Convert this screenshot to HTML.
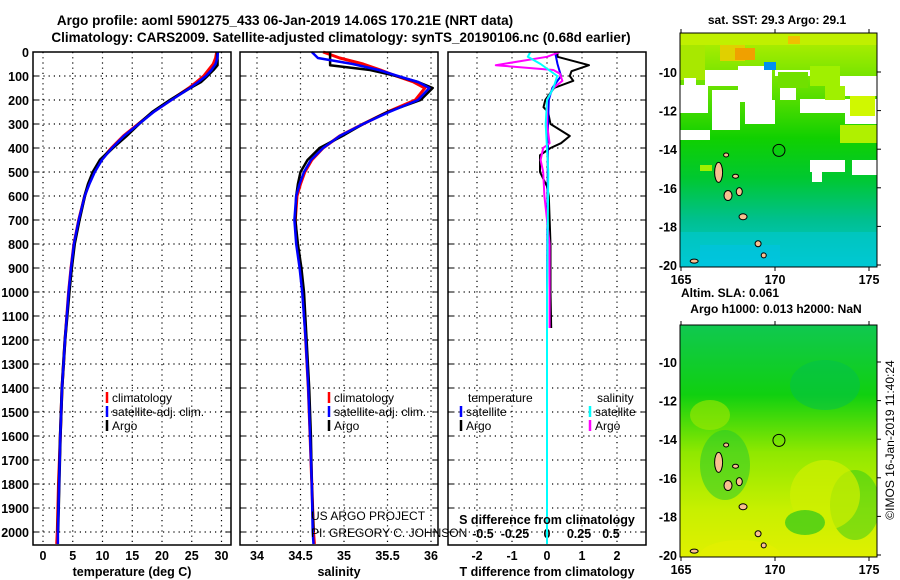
<!DOCTYPE html>
<html><head><meta charset="utf-8"><style>
body{margin:0;background:#fff;}
svg{display:block;font-family:"Liberation Sans",sans-serif;}
.t{font-weight:bold;font-size:13.5px;}
.tk{font-weight:bold;font-size:12.5px;}
</style></head><body>
<svg id="fig" width="900" height="580" viewBox="0 0 900 580" xmlns="http://www.w3.org/2000/svg">
<defs>
<linearGradient id="sstg" x1="0" y1="0" x2="0" y2="1">
<stop offset="0" stop-color="#b8f000"/><stop offset="0.25" stop-color="#60e000"/><stop offset="0.45" stop-color="#10d000"/><stop offset="0.62" stop-color="#00c830"/><stop offset="0.8" stop-color="#00c090"/><stop offset="1" stop-color="#00c8d8"/>
</linearGradient>
<linearGradient id="slag" x1="0" y1="0" x2="0" y2="1">
<stop offset="0" stop-color="#10c850"/><stop offset="0.3" stop-color="#10d010"/><stop offset="0.55" stop-color="#90e800"/><stop offset="0.8" stop-color="#c8f000"/><stop offset="1" stop-color="#e0f000"/>
</linearGradient>
<clipPath id="clip1"><rect x="680" y="33" width="197" height="234"/></clipPath>
<clipPath id="clip2"><rect x="680" y="325" width="197" height="232"/></clipPath>
</defs>
<text class="t" x="285" y="25" text-anchor="middle">Argo profile: aoml 5901275_433 06-Jan-2019 14.06S 170.21E (NRT data)</text>
<text class="t" x="341" y="42" text-anchor="middle">Climatology: CARS2009. Satellite-adjusted climatology: synTS_20190106.nc (0.68d earlier)</text>
<g id="panels"></g>
<g id="maps"></g>
</svg>
<script>
// ---- data ----
const depths = [0,25,50,75,100,125,150,200,250,300,350,400,450,500,550,600,700,800,900,1000,1200,1400,1600,1800,2000,2050];
const tempClim = [29.2,29.0,28.6,27.8,27.0,25.8,24.5,21.5,18.5,16.0,13.5,11.5,9.8,8.6,7.7,7.0,6.0,5.2,4.7,4.3,3.7,3.2,2.9,2.6,2.4,2.3];
const tempSat  = [29.4,29.3,29.0,28.3,27.4,26.1,24.7,21.6,18.6,16.1,13.6,11.6,9.9,8.7,7.8,7.0,6.0,5.2,4.7,4.3,3.7,3.2,2.9,2.7,2.5,2.5];
const argoDepths = [0,25,55,75,100,125,150,200,250,300,350,400,450,500,550,600,700,800,900,1000,1200,1400,1600,1800,2000];
const tempArgo = [29.3,29.3,29.3,28.6,27.6,26.5,24.7,21.4,18.4,16.1,14.0,11.7,9.6,8.4,7.6,7.0,6.1,5.3,4.8,4.4,3.7,3.2,2.9,2.7,2.5];
const salClim = [34.76,34.95,35.22,35.42,35.6,35.8,35.93,35.82,35.5,35.22,34.95,34.76,34.63,34.55,34.5,34.46,34.44,34.46,34.5,34.53,34.56,34.59,34.61,34.63,34.65,34.66];
const salSat  = [34.63,34.7,35.1,35.4,35.62,35.85,35.98,35.85,35.52,35.22,34.95,34.76,34.62,34.54,34.49,34.45,34.43,34.45,34.49,34.52,34.56,34.59,34.61,34.63,34.64,34.65];
const salArgo = [34.84,34.84,34.84,35.3,35.6,35.85,36.02,35.88,35.5,35.22,34.98,34.72,34.58,34.5,34.47,34.45,34.44,34.47,34.51,34.54,34.57,34.6,34.62,34.63,34.65];
const dTDepths = [0,20,55,80,100,120,150,200,230,250,300,350,380,400,430,500,560,600,800,1000,1150];
const dTArgo = [0.3,0.3,1.2,0.7,0.65,0.75,0.2,-0.05,-0.1,0.03,0.1,0.65,0.4,0.1,-0.2,-0.2,0,0.05,0.1,0.1,0.12];
const dTSatDepths = [0,50,100,150,200,300,500,1000,2050];
const dTSat = [0.23,0.3,0.4,0.15,0.05,0.03,0.02,0,0];
const dSDepths = [0,20,55,75,90,120,150,200,300,380,400,450,500,600,800,1150];
const dSArgo = [0.1,0.0,-0.4,0.05,0.1,0.12,0.05,0,0,0.02,-0.03,-0.05,-0.03,-0.02,0.02,0.02];
const dSSatDepths = [0,20,50,100,150,200,300,500,1000,2050];
const dSSat = [-0.13,-0.15,-0.05,0.08,0.05,0,-0.01,0.01,0,0];
const depthTicks = [0,100,200,300,400,500,600,700,800,900,1000,1100,1200,1300,1400,1500,1600,1700,1800,1900,2000];
const tempTicks = [0,5,10,15,20,25,30];
const salTicks = [34,34.5,35,35.5,36];
const salTickLabels = ["34","34.5","35","35.5","36"];
const dTTicks = [-2,-1,0,1,2];
const dSTicks = [-0.5,-0.25,0,0.25,0.5];
const dSTickLabels = ["-0.5","-0.25","0","0.25","0.5"];
const latTicks = [-10,-12,-14,-16,-18,-20];
const lonTicks = [165,170,175];

const NS="http://www.w3.org/2000/svg";
function mk(tag,attrs,parent,txt){const e=document.createElementNS(NS,tag);for(const k in attrs)e.setAttribute(k,attrs[k]);if(txt!==undefined)e.textContent=txt;parent.appendChild(e);return e;}
const Y = d => 52 + d*0.24;
const xT = v => 43 + v*5.95;
const xS = v => 257 + (v-34)*87;
const xdT = v => 547 + v*35;
const xdS = v => 547 + v*128;
const P = document.getElementById('panels');
const panels=[[33,231],[240,438],[448,646]];
panels.forEach((p,i)=>{
  const g=mk('g',{},P);
  
  
  depthTicks.forEach(d=>{ if(d>0){const l=mk('line',{x1:p[0],x2:p[1],y1:Y(d),y2:Y(d),stroke:'#000','stroke-dasharray':'1.2,4','stroke-width':1.2},g);
     }
    mk('line',{x1:p[0],x2:p[0]+5,y1:Y(d),y2:Y(d),stroke:'#000'},g);
    mk('line',{x1:p[1]-5,x2:p[1],y1:Y(d),y2:Y(d),stroke:'#000'},g);
  });
});
function vgrid(ticks,fx,p,labels,name){
  ticks.forEach((t,i)=>{const x=fx(t);
    const l=mk('line',{x1:x,x2:x,y1:52,y2:545,stroke:'#000','stroke-dasharray':'1.2,4','stroke-width':1.2},P);
     
    const tx=mk('text',{x:x,y:560,'text-anchor':'middle',class:'tk'},P,labels?labels[i]:String(t));
     });
}
vgrid(tempTicks,xT,panels[0],null,'temp');
vgrid(salTicks,xS,panels[1],salTickLabels,'sal');
vgrid(dTTicks,xdT,panels[2],null,'tdiff');
dSTicks.forEach((t,i)=>{const x=xdS(t);const tx=mk('text',{x:x,y:538,'text-anchor':'middle',class:'tk'},P,dSTickLabels[i]);
   });
depthTicks.forEach(d=>{const tx=mk('text',{x:29,y:Y(d)+5,'text-anchor':'end',class:'tk'},P,String(d));
   });
function line(ds,vs,fx,col,w,name){
  const pts=ds.map((d,i)=>fx(vs[i]).toFixed(1)+','+Y(d).toFixed(1)).join(' ');
  const l=mk('polyline',{points:pts,fill:'none',stroke:col,'stroke-width':w,'stroke-linejoin':'round'},P);
   
}
line(depths,tempClim,xT,'#f00',3,'temp-climatology-line');
line(argoDepths,tempArgo,xT,'#000',3,'temp-argo-line');
line(depths,tempSat,xT,'#00f',2.5,'temp-satellite-line');
line(depths,salClim,xS,'#f00',3,'sal-climatology-line');
line(argoDepths,salArgo,xS,'#000',2.5,'sal-argo-line');
line(depths,salSat,xS,'#00f',2.5,'sal-satellite-line');
line(dTDepths,dTArgo,xdT,'#000',2,'tdiff-argo-line');
line(dTSatDepths,dTSat,xdT,'#00f',2,'tdiff-satellite-line');
line(dSDepths,dSArgo,xdS,'#f0f',2,'sdiff-argo-line');
line(dSSatDepths,dSSat,xdS,'#0ff',2,'sdiff-satellite-line');
panels.forEach(p=>{const r=mk('rect',{x:p[0],y:52,width:p[1]-p[0],height:493,fill:'none',stroke:'#000','stroke-width':1.5},P);
   });
[['temperature (deg C)',132],['salinity',339],['T difference from climatology',547]].forEach(a=>{
  const tx=mk('text',{x:a[1],y:576,'text-anchor':'middle',class:'tk'},P,a[0]);
   });
const sd=mk('text',{x:547,y:524,'text-anchor':'middle',class:'tk'},P,'S difference from climatology');
 
function leg(x,y,col,txt){const g=mk('g',{},P);
  mk('line',{x1:x,x2:x,y1:y-10,y2:y+1,stroke:col,'stroke-width':2.5},g);
  mk('text',{x:x+5,y:y,style:'font-size:12px'},g,txt);}
leg(107,402,'#f00','climatology');leg(107,416,'#00f','satellite-adj. clim.');leg(107,430,'#000','Argo');
leg(329,402,'#f00','climatology');leg(329,416,'#00f','satellite-adj. clim.');leg(329,430,'#000','Argo');
const lt=mk('text',{x:468,y:402,style:'font-size:12px'},P,'temperature');
const ls=mk('text',{x:597,y:402,style:'font-size:12px'},P,'salinity');
leg(461,416,'#00f','satellite');leg(461,430,'#000','Argo');
leg(590,416,'#0ff','satellite');leg(590,430,'#f0f','Argo');
const c1=mk('text',{x:311,y:520,style:'font-size:12px'},P,'US ARGO PROJECT');
const c2=mk('text',{x:311,y:537,style:'font-size:12px'},P,'PI: GREGORY C. JOHNSON');

// ---- maps ----
const M=document.getElementById('maps');
function map(y0,y1,la,lb,fill,clip,title1,title2,isSST){
  const x0=680,x1=877;
  const lx=lon=>681+(lon-165)*18.8;
  const ly=lat=>la+(-10-lat)*(lb-la)/10;
  const g=mk('g',{},M);
  const c=mk('g',{'clip-path':'url(#'+clip+')'},g);
  mk('rect',{x:x0,y:y0,width:x1-x0,height:y1-y0,fill:'url(#'+fill+')'},c);
  if(isSST){
    [[680,33,197,12,'#c0f000',1],[680,45,25,35,'#a8e800',1],[720,45,25,16,'#e0d000',1],[735,48,20,12,'#f0a000',1],
     [684,78,12,22,'#fff',1],[680,85,28,28,'#fff',1],[705,70,35,16,'#fff',1],[712,90,28,40,'#fff',1],[738,66,34,36,'#fff',1],[745,100,30,24,'#fff',1],
     [775,70,50,6,'#fff',1],[780,76,16,24,'#fff',1],[820,76,57,10,'#fff',1],[830,86,47,10,'#fff',1],[800,99,77,14,'#fff',1],[845,112,32,12,'#fff',1],
     [778,72,30,16,'#70e000',1],[810,66,30,20,'#a0f000',1],[825,86,20,14,'#a0f000',1],[850,96,25,20,'#d0f800',1],
     [680,130,30,10,'#fff',1],[840,125,37,18,'#b0f000',1],[810,160,35,12,'#fff',1],[852,160,25,15,'#fff',1],[812,172,10,10,'#fff',1],
     [700,165,12,6,'#a0f000',1],[764,62,12,8,'#0090f0',1],[788,36,12,8,'#f0c000',1],[680,232,197,35,'#00c8d0',0.6],[700,245,80,22,'#00c0f0',0.4]].forEach(r=>mk('rect',{x:r[0],y:r[1],width:r[2],height:r[3],fill:r[4],opacity:r[5]},c));
  } else {
    [[790,360,70,50,'#00c050',0.5],[830,470,50,70,'#10c020',0.4],[790,460,70,70,'#d0f000',0.7],[700,540,80,30,'#e8f000',0.5],[700,430,50,70,'#20c830',0.5],[785,510,40,25,'#10c020',0.6],[690,400,40,30,'#a0e800',0.6]].forEach(r=>mk('ellipse',{cx:r[0]+r[2]/2,cy:r[1]+r[3]/2,rx:r[2]/2,ry:r[3]/2,fill:r[4],opacity:r[5]},c));
  }
  [[167,-15.2,4,10],[167.5,-16.4,4,5],[168.3,-17.5,4,3],[168.1,-16.2,3,4],[169.1,-18.9,3,3],[169.4,-19.5,2.5,2.5],[165.7,-19.8,4,2],[167.9,-15.4,3,2],[167.4,-14.3,2.5,2]].forEach(s=>mk('ellipse',{cx:lx(s[0]),cy:ly(s[1]),rx:s[2],ry:s[3],fill:'#f8c090',stroke:'#000','stroke-width':1},g));
  const ci=mk('circle',{cx:lx(170.21),cy:ly(-14.06),r:6,fill:'none',stroke:'#000','stroke-width':1},g);
  
  mk('rect',{x:x0,y:y0,width:x1-x0,height:y1-y0,fill:'none',stroke:'#000','stroke-width':1},g);
  latTicks.forEach(l=>{const y=ly(l);mk('line',{x1:x1,x2:x1+4,y1:y,y2:y,stroke:'#000'},g);
    const t=mk('text',{x:677,y:y+5,'text-anchor':'end',class:'tk'},g,String(l));});
  lonTicks.forEach(l=>{const x=lx(l);mk('line',{x1:x,x2:x,y1:y1,y2:y1+4,stroke:'#000'},g);mk('line',{x1:x,x2:x,y1:y0-4,y2:y0,stroke:'#000'},g);
    const t=mk('text',{x:x,y:y1+17,'text-anchor':'middle',class:'tk'},g,String(l));});
  const t1=mk('text',{x:title2?730:777,y:title2?y0-28:y0-9,'text-anchor':'middle',style:'font-weight:bold;font-size:12px'},g,title1);
  if(title2){const t2=mk('text',{x:776,y:y0-12,'text-anchor':'middle',style:'font-weight:bold;font-size:12px'},g,title2);}
}
map(33,267,72,265,'sstg','clip1','sat. SST: 29.3 Argo: 29.1',null,true);
map(325,557,362,555,'slag','clip2','Altim. SLA: 0.061','Argo h1000: 0.013 h2000: NaN',false);
const cr=mk('text',{x:0,y:0,transform:'translate(894,440) rotate(-90)','text-anchor':'middle',style:'font-size:12px'},M,'©IMOS 16-Jan-2019 11:40:24');

</script>
</body></html>
